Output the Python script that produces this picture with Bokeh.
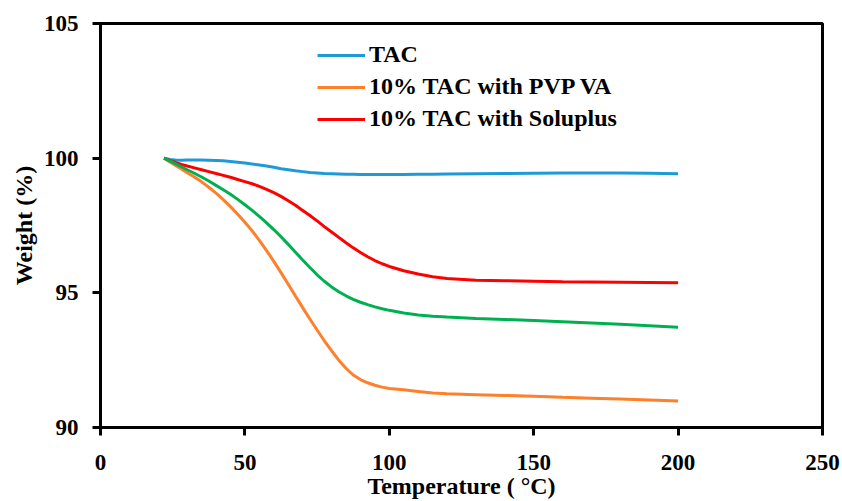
from bokeh.plotting import figure
from bokeh.models import Range1d, FixedTicker, Legend, LegendItem
from bokeh.embed import file_html
from bokeh.resources import INLINE

temperature = [22, 24, 26, 28, 30, 32.5, 35, 37.5, 40, 42.5, 45, 47.5, 50, 52.5, 55, 57.5,
               60, 62.5, 65, 67.5, 70, 72.5, 75, 77.5, 80, 82.5, 85, 87.5, 90, 92.5, 95, 97.5,
               100, 105, 110, 115, 120, 130, 140, 150, 160, 170, 180, 190, 200]
tac = [100.0, 99.95, 99.93, 99.92, 99.93, 99.93, 99.93, 99.92, 99.91, 99.9, 99.88, 99.85,
       99.82, 99.78, 99.75, 99.71, 99.66, 99.61, 99.57, 99.53, 99.5, 99.47, 99.45, 99.43,
       99.42, 99.41, 99.4, 99.4, 99.39, 99.39, 99.39, 99.39, 99.39, 99.39, 99.4, 99.4,
       99.41, 99.42, 99.43, 99.44, 99.45, 99.45, 99.45, 99.44, 99.42]
pvp_va = [100.0, 99.86, 99.73, 99.6, 99.46, 99.3, 99.12, 98.92, 98.7, 98.46, 98.2, 97.92,
          97.62, 97.3, 96.95, 96.57, 96.17, 95.75, 95.32, 94.88, 94.45, 94.03, 93.62, 93.22,
          92.85, 92.5, 92.2, 91.95, 91.78, 91.66, 91.57, 91.5, 91.45, 91.4, 91.34, 91.28,
          91.25, 91.22, 91.19, 91.16, 91.12, 91.09, 91.06, 91.02, 90.98]
soluplus = [100.0, 99.92, 99.84, 99.77, 99.71, 99.64, 99.57, 99.5, 99.43, 99.36, 99.29, 99.21,
            99.13, 99.05, 98.95, 98.84, 98.72, 98.58, 98.42, 98.25, 98.06, 97.87, 97.67, 97.46,
            97.26, 97.06, 96.86, 96.67, 96.5, 96.34, 96.2, 96.08, 95.98, 95.82, 95.7, 95.6,
            95.53, 95.47, 95.45, 95.43, 95.41, 95.4, 95.39, 95.38, 95.37]
green_series = [100.0, 99.9, 99.79, 99.68, 99.57, 99.44, 99.3, 99.15, 98.99, 98.83, 98.66, 98.47,
                98.27, 98.06, 97.84, 97.6, 97.35, 97.08, 96.8, 96.51, 96.22, 95.94, 95.67, 95.43,
                95.22, 95.04, 94.89, 94.76, 94.65, 94.56, 94.48, 94.41, 94.35, 94.25, 94.18, 94.13,
                94.1, 94.05, 94.01, 93.97, 93.93, 93.88, 93.83, 93.78, 93.72]

x_ticks = [0, 50, 100, 150, 200, 250]
y_ticks = [90, 95, 100, 105]
legend_labels = ["TAC", "10% TAC with PVP VA", "10% TAC with Soluplus"]

FONT = "Liberation Serif"

p = figure(width=842, height=501, output_backend="svg", toolbar_location=None,
           x_range=Range1d(0, 250), y_range=Range1d(90, 105),
           min_border_left=100, min_border_right=20, min_border_top=23, min_border_bottom=74)
p.background_fill_color = "white"
p.border_fill_color = "white"
p.outline_line_color = "black"
p.outline_line_width = 3
p.xgrid.visible = False
p.ygrid.visible = False

l_tac = p.line(temperature, tac, line_color="#1E9BD7", line_width=3)
l_pvp = p.line(temperature, pvp_va, line_color="#FF7F2A", line_width=3)
l_sol = p.line(temperature, soluplus, line_color="#FF0000", line_width=3)
p.line(temperature, green_series, line_color="#00B050", line_width=3)

for ax, ticks in ((p.xaxis[0], x_ticks), (p.yaxis[0], y_ticks)):
    ax.ticker = FixedTicker(ticks=ticks)
    ax.axis_line_width = 3
    ax.axis_line_color = "black"
    ax.major_tick_line_width = 3
    ax.major_tick_line_color = "black"
    ax.major_tick_out = 8
    ax.major_tick_in = 0
    ax.minor_tick_line_color = None
    ax.major_label_text_font = FONT
    ax.major_label_text_font_style = "bold"
    ax.major_label_text_font_size = "23px"
    ax.major_label_text_color = "black"
    ax.axis_label_text_font = FONT
    ax.axis_label_text_font_style = "bold"
    ax.axis_label_text_font_size = "24px"
    ax.axis_label_text_color = "black"

p.xaxis[0].axis_label = "Temperature ( °C)"
p.yaxis[0].axis_label = "Weight (%)"
p.xaxis[0].major_label_standoff = 19
p.yaxis[0].major_label_standoff = 14
p.xaxis[0].axis_label_standoff = 0
p.yaxis[0].axis_label_standoff = 4

legend = Legend(items=[LegendItem(label=legend_labels[0], renderers=[l_tac]),
                       LegendItem(label=legend_labels[1], renderers=[l_pvp]),
                       LegendItem(label=legend_labels[2], renderers=[l_sol])],
                location=(217, 295))
legend.background_fill_alpha = 0
legend.border_line_color = None
legend.padding = 0
legend.margin = 0
legend.spacing = 5
legend.glyph_width = 48
legend.glyph_height = 22
legend.label_height = 22
legend.label_standoff = 4
legend.label_text_font = FONT
legend.label_text_font_style = "bold"
legend.label_text_font_size = "24px"
legend.label_text_color = "black"
p.add_layout(legend)

open("out.html", "w").write(file_html(p, INLINE))
